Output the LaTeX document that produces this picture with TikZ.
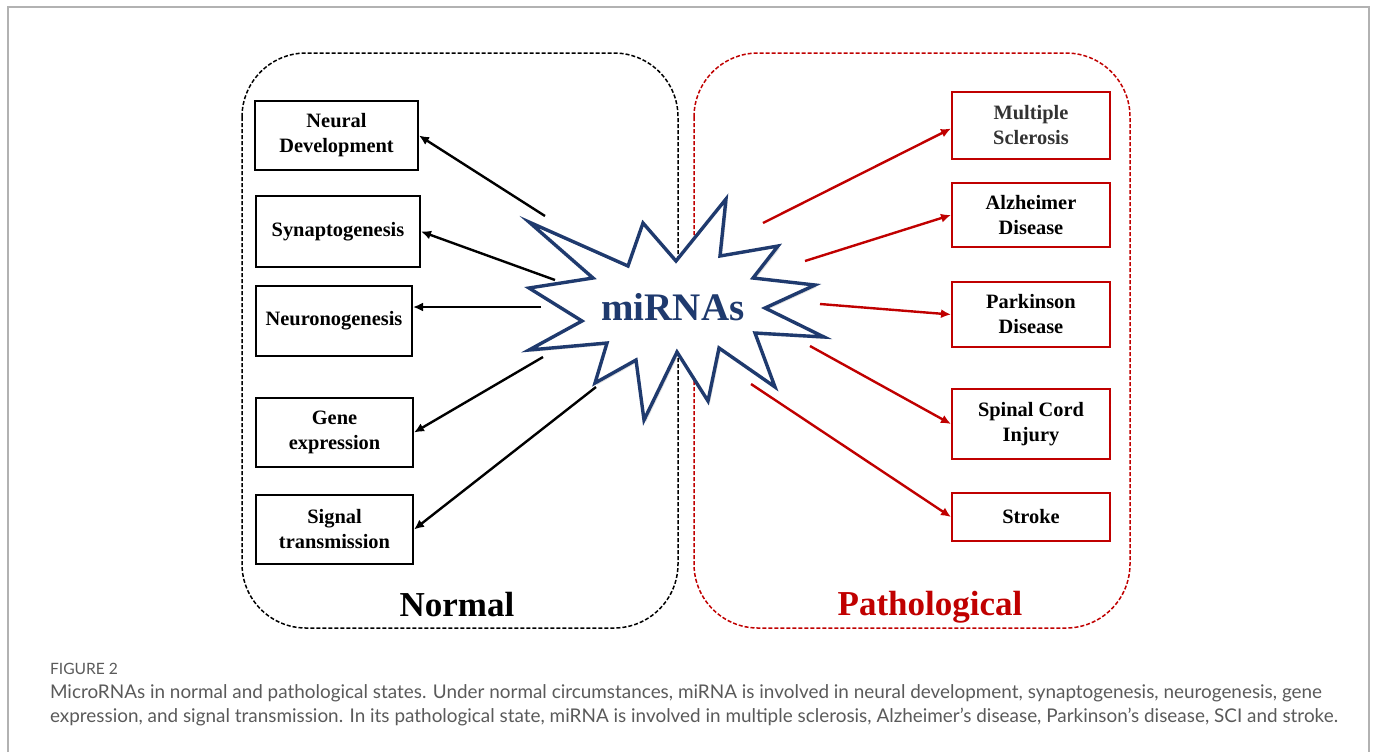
\documentclass[tikz,border=0pt]{standalone}
\usepackage{fontspec}
\setmainfont{Liberation Serif}
\newfontfamily\capfont{Lato}
\usepackage{tikz}
\usetikzlibrary{arrows.meta,shadows}

\definecolor{navy}{HTML}{1F3A6E}
\definecolor{darkred}{HTML}{C00000}
\definecolor{capgray}{HTML}{5A5A5A}

\tikzset{
  normbox/.style={draw=black, line width=1pt, align=center, inner sep=0pt, font=\fontsize{10.2}{12.5}\selectfont\bfseries},
  pathbox/.style={normbox, draw=darkred},
  normarrow/.style={draw=black, line width=1.2pt, -{Latex[length=5pt,width=4.5pt]}},
  patharrow/.style={normarrow, draw=darkred},
  panel/.style={line width=0.75pt, dash pattern=on 2pt off 1pt, rounded corners=32pt},
  title/.style={anchor=base, font=\fontsize{17.5}{20}\selectfont\bfseries}
}

\begin{document}
\begin{tikzpicture}[x=0.5pt,y=-0.5pt]
\useasboundingbox (0,0) rectangle (1377,752);
\draw[black!30, line width=0.6pt] (8,752) -- (8,7) -- (1369,7) -- (1369,752);

\draw[panel, draw=black] (242,53) rectangle (678,628);
\draw[panel, draw=darkred] (694,53) rectangle (1130,628);

\node[normbox, minimum width=81.5pt, minimum height=34.5pt] (a) at (336.5,135.5) {Neural\\Development};
\node[normbox, minimum width=82pt, minimum height=35.5pt] (b) at (338,231.5) {Synaptogenesis};
\node[normbox, minimum width=78pt, minimum height=35pt] (c) at (334,321) {Neuronogenesis};
\node[normbox, minimum width=78.5pt, minimum height=34.5pt] (d) at (334.5,432.5) {Gene\\expression};
\node[normbox, minimum width=78.5pt, minimum height=34.5pt] (e) at (334.5,529.5) {Signal\\transmission};

\node[pathbox, minimum width=79pt, minimum height=33.5pt, text=black!80] (f) at (1031,125.5) {Multiple\\Sclerosis};
\node[pathbox, minimum width=79pt, minimum height=32pt] (g) at (1031,215) {Alzheimer\\Disease};
\node[pathbox, minimum width=79pt, minimum height=32.5pt] (h) at (1031,314.5) {Parkinson\\Disease};
\node[pathbox, minimum width=79pt, minimum height=35pt] (i) at (1031,424) {Spinal Cord\\Injury};
\node[pathbox, minimum width=79pt, minimum height=24pt] (j) at (1031,517) {Stroke};

\path[draw=navy, fill=white, line width=1.7pt, miter limit=20,
  drop shadow={opacity=0.25, shadow xshift=1pt, shadow yshift=-1pt}]
  (529,222) -- (628,266) -- (643,223) -- (676,261) -- (726,199) -- (720,256)
  -- (778,246) -- (753,278) -- (815,285) -- (765,308) -- (824,337) -- (755,333)
  -- (775,387) -- (719,348) -- (708,401) -- (677,352) -- (644,420) -- (636,360)
  -- (595,383) -- (607,343) -- (529,350) -- (582,321) -- (529,288) -- (593,278) -- cycle;
\node[anchor=base, text=navy, font=\fontsize{19.5}{22}\selectfont\bfseries] (mir) at (673,320) {miRNAs};

\coordinate (sa) at (545,216);
\coordinate (sb) at (555,280);
\coordinate (sc) at (541,307);
\coordinate (sd) at (543,357);
\coordinate (se) at (596,387);
\coordinate (sf) at (763,223);
\coordinate (sg) at (805,261);
\coordinate (sh) at (820,304);
\coordinate (si) at (810,346);
\coordinate (sj) at (751,384);

\path[normarrow] (sa) -- (a.east);
\path[normarrow] (sb) -- (b.east);
\path[normarrow] (sc) -- (sc -| c.east);
\path[normarrow] (sd) -- (d.east);
\path[normarrow] (se) -- (e.east);

\path[patharrow] (sf) -- ([yshift=-1.5pt]f.west);
\path[patharrow] (sg) -- (g.west);
\path[patharrow] (sh) -- (h.west);
\path[patharrow] (si) -- (i.west);
\path[patharrow] (sj) -- (j.west);

\node[title] (normal) at (457,616) {Normal};
\node[title, text=darkred] (patho) at (930,615) {Pathological};

\node[anchor=base west, text=capgray, font=\capfont\fontsize{7.8}{9}\selectfont] (fig) at (43,674) {FIGURE 2};
\node[anchor=base west, text=capgray, font=\capfont\fontsize{9.45}{12}\selectfont] (cap1) at (43,698) {MicroRNAs in normal and pathological states. Under normal circumstances, miRNA is involved in neural development, synaptogenesis, neurogenesis, gene};
\node[anchor=base west, text=capgray, font=\capfont\fontsize{9.45}{12}\selectfont] (cap2) at (43,722) {expression, and signal transmission. In its pathological state, miRNA is involved in multiple sclerosis, Alzheimer’s disease, Parkinson’s disease, SCI and stroke.};
\end{tikzpicture}
\end{document}
